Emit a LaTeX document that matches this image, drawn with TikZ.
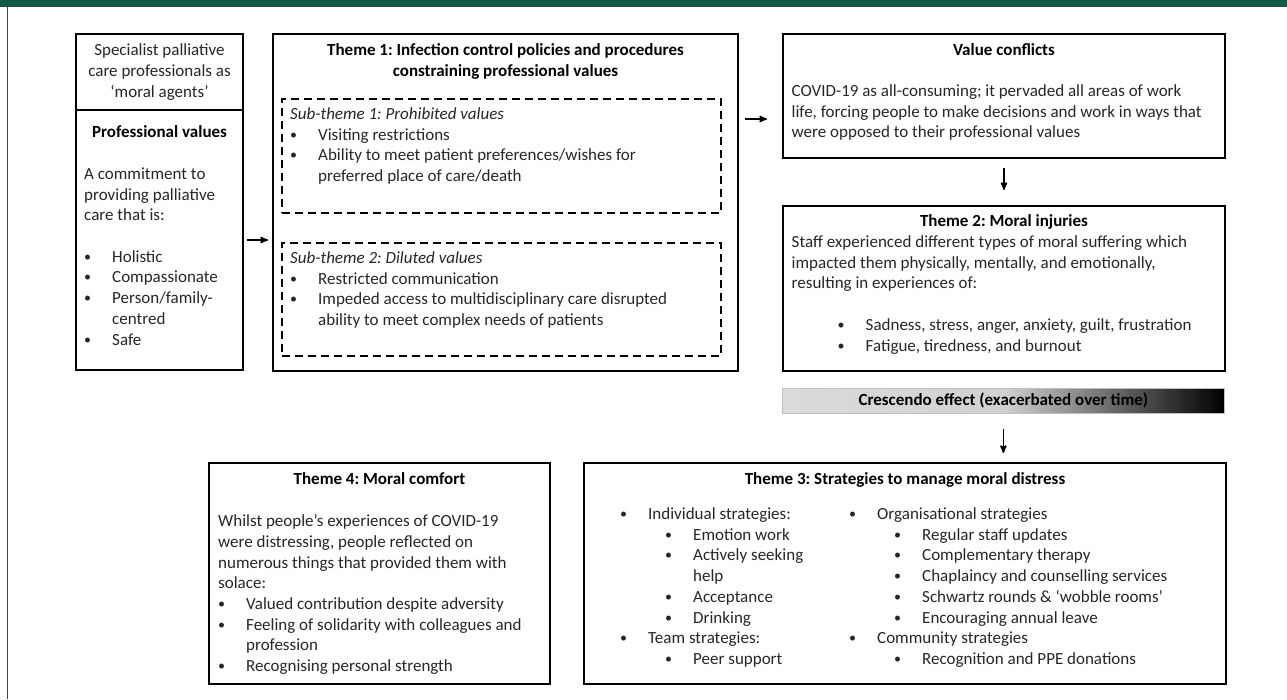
\documentclass[tikz,border=0pt]{standalone}
\usepackage{fontspec}
\setmainfont{Carlito}
\usetikzlibrary{arrows,shapes,positioning}
\frenchspacing

\definecolor{framegreen}{RGB}{18,90,70}
\pgfdeclarehorizontalshading{crescendo}{100bp}{rgb(0bp)=(.86,.86,.86); rgb(25bp)=(.86,.86,.86); rgb(50bp)=(.82,.82,.82); rgb(75bp)=(0,0,0); rgb(100bp)=(0,0,0)}

\newcommand{\fs}{\fontsize{17}{20.7}\selectfont}
\newcommand{\bul}{\makebox[28pt][l]{\raisebox{1pt}{\fontsize{14}{14}\selectfont\textbullet}}}
\newcommand{\subbul}{\hspace*{45pt}\bul}
\newcommand{\cont}{\hspace*{28pt}}

\tikzset{
  box/.style={draw, line width=2pt, inner sep=0pt, anchor=north west},
  dashbox/.style={draw, line width=1.8pt, dash pattern=on 8pt off 5pt, inner sep=0pt, anchor=north west},
  boxsize/.style 2 args={minimum width=#1pt, minimum height=#2pt},
  body/.style={inner sep=0pt, align=left, text=black!85},
  title/.style={inner sep=0pt, align=center, font=\fs\bfseries},
  flow/.style={->, line width=1.6pt}
}

\begin{document}
\begin{tikzpicture}[x=1pt, y=-1pt, >=stealth', font=\fs]

\useasboundingbox (0,0) rectangle (1287,699);
\fill[framegreen] (0,0) rectangle (1287,7);
\fill[framegreen] (6.7,0) rectangle (8.3,699);

\node[box, boxsize={167}{76}, align=center, text=black!85] (agents) at (75,33) {Specialist palliative\\care professionals as\\‘moral agents’};
\node[box, boxsize={167}{260}] (values) at (75,109) {};
\node[title, below=16.5pt of values.north] (valuestitle) {Professional values};
\node[body, below right=58.5pt and 9pt of values.north west] (valuesbody) {A commitment to\\providing palliative\\care that is:\\[20.7pt]\bul Holistic\\\bul Compassionate\\\bul Person/family-\\\cont centred\\\bul Safe};

\node[box, boxsize={465}{337}] (theme1) at (272,33) {};
\node[title, below=10.5pt of theme1.north] (theme1title) {Theme 1: Infection control policies and procedures\\constraining professional values};
\node[dashbox, boxsize={439}{114}] (prohibited) at (281,98) {};
\node[body, below right=9.5pt and 9pt of prohibited.north west] (prohibitedtext) {\textit{Sub-theme 1: Prohibited values}\\\bul Visiting restrictions\\\bul Ability to meet patient preferences/wishes for\\\cont preferred place of care/death};
\node[dashbox, boxsize={439}{113}] (diluted) at (281,242) {};
\node[body, below right=9.5pt and 9pt of diluted.north west] (dilutedtext) {\textit{Sub-theme 2: Diluted values}\\\bul Restricted communication\\\bul Impeded access to multidisciplinary care disrupted\\\cont ability to meet complex needs of patients};

\node[box, boxsize={442}{124}] (conflicts) at (782,33) {};
\node[title, below=10.5pt of conflicts.north] (conflictstitle) {Value conflicts};
\node[body, below right=51.5pt and 9.5pt of conflicts.north west] (conflictsbody) {COVID-19 as all-consuming; it pervaded all areas of work\\life, forcing people to make decisions and work in ways that\\were opposed to their professional values};

\node[box, boxsize={442}{165}] (theme2) at (782,205) {};
\node[title, below=9.5pt of theme2.north] (theme2title) {Theme 2: Moral injuries};
\node[body, below right=30.5pt and 9.5pt of theme2.north west] (theme2body) {Staff experienced different types of moral suffering which\\impacted them physically, mentally, and emotionally,\\resulting in experiences of:\\[20.7pt]\hspace*{46pt}\bul Sadness, stress, anger, anxiety, guilt, frustration\\\hspace*{46pt}\bul Fatigue, tiredness, and burnout};

\node[shade, shading=crescendo, draw=black!25, line width=0.8pt, inner sep=0pt, anchor=north west, boxsize={442}{25}, font=\fs\bfseries] (crescendo) at (782,388) {Crescendo effect (exacerbated over time)};

\node[box, boxsize={341}{221}] (theme4) at (208,462) {};
\node[title, below=10.5pt of theme4.north] (theme4title) {Theme 4: Moral comfort};
\node[body, below right=52.5pt and 10pt of theme4.north west] (theme4body) {Whilst people’s experiences of COVID-19\\were distressing, people reflected on\\numerous things that provided them with\\solace:\\\bul Valued contribution despite adversity\\\bul Feeling of solidarity with colleagues and\\\cont profession\\\bul Recognising personal strength};

\node[box, boxsize={642}{221}] (theme3) at (583,462) {};
\node[title, below=10.5pt of theme3.north] (theme3title) {Theme 3: Strategies to manage moral distress};
\node[body, below right=45.5pt and 37pt of theme3.north west] (individual) {\bul Individual strategies:\\\subbul Emotion work\\\subbul Actively seeking\\\hspace*{73pt}help\\\subbul Acceptance\\\subbul Drinking\\\bul Team strategies:\\\subbul Peer support};
\node[body, below right=45.5pt and 266pt of theme3.north west] (organisational) {\bul Organisational strategies\\\subbul Regular staff updates\\\subbul Complementary therapy\\\subbul Chaplaincy and counselling services\\\subbul Schwartz rounds \& ‘wobble rooms’\\\subbul Encouraging annual leave\\\bul Community strategies\\\subbul Recognition and PPE donations};

\coordinate (row) at (0,119);
\draw[flow, shorten <=3pt, shorten >=4pt] (values.east) -- (values.east -| theme1.west);
\draw[flow, shorten <=6pt, shorten >=15pt] (theme1.east |- row) -- (conflicts.west |- row);
\draw[flow, shorten <=9pt, shorten >=15pt] (conflicts.south) -- (theme2.north);
\draw[flow, shorten <=15pt, shorten >=9pt] (crescendo.south) -- (crescendo.south |- theme3.north);

\end{tikzpicture}
\end{document}
